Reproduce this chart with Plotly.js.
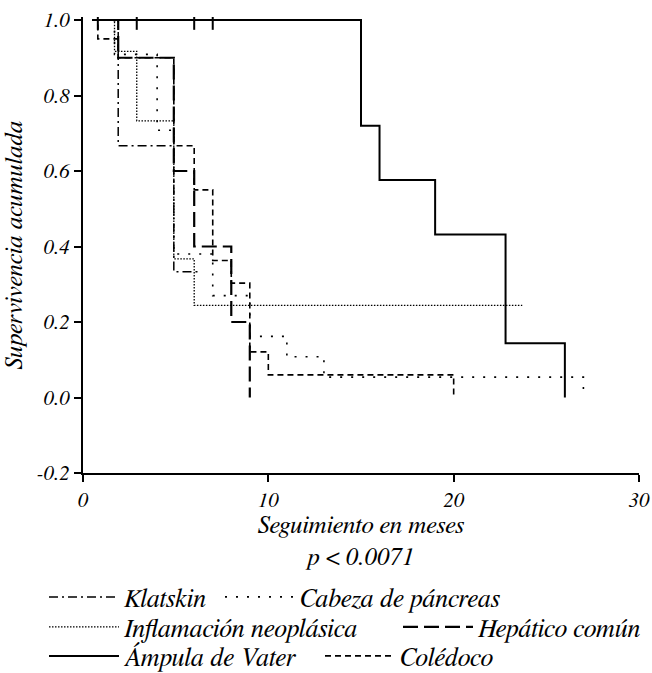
<!DOCTYPE html>
<html><head><meta charset="utf-8">
<script src="https://cdn.plot.ly/plotly-3.0.1.min.js"></script>
<style>html,body{margin:0;padding:0;background:#fff}</style>
</head><body>
<div id="chart" style="width:652px;height:673px"></div>
<script>
// ---- data (months, cumulative survival) ----
const xTickVals = [0, 10, 20, 30];
const yTickVals = [-0.2, 0, 0.2, 0.4, 0.6, 0.8, 1.0];
const yTickText = ['-0.2', '0.0', '0.2', '0.4', '0.6', '0.8', '1.0'];

const klatskinT = [0.5, 1.9, 4.9, 6.3];
const klatskinS = [1, 0.667, 0.333, 0.333];

const cabezaT = [0.5, 1.7, 4.0, 4.9, 7, 9, 11, 13, 27];
const cabezaS = [1, 0.909, 0.708, 0.38, 0.27, 0.162, 0.108, 0.054, 0];

const inflamT = [0.5, 1.7, 2.9, 4.9, 6, 23.7];
const inflamS = [1, 0.917, 0.733, 0.367, 0.244, 0.244];

const hepaticoT = [0.5, 1.9, 4.9, 6, 8, 9];
const hepaticoS = [1, 0.9, 0.6, 0.4, 0.2, 0];

const ampulaT = [0.5, 15, 16, 19, 22.8, 26];
const ampulaS = [1, 0.72, 0.576, 0.432, 0.144, 0];
const ampulaCensT = [0.8, 2.9, 6, 7];
const ampulaCensS = [1, 1, 1, 1];

const coledocoT = [0.5, 0.8, 1.9, 4.9, 6, 7, 8, 9, 10, 20];
const coledocoS = [1, 0.95, 0.9, 0.667, 0.55, 0.363, 0.303, 0.121, 0.06, 0];

const names = ['Klatskin', 'Cabeza de páncreas', 'Inflamación neoplásica', 'Hepático común', 'Ámpula de Vater', 'Colédoco'];

const fam = 'FreeSerif, Liberation Serif, serif';
function f(size) { return {family: fam, size: size, color: '#000', style: 'italic'}; }

function step(x, y, name, dash, width, legend) {
  return {type: 'scatter', mode: 'lines', x: x, y: y, name: name,
    line: {shape: 'hv', color: '#000', width: width, dash: dash},
    legend: legend, hoverinfo: 'skip'};
}

const traces = [
  step(klatskinT, klatskinS, names[0], '9px,4px,2px,4px', 1.5, 'legend'),
  step(cabezaT, cabezaS, names[1], '2px,9px', 1.6, 'legend2'),
  step(inflamT, inflamS, names[2], '1.5px,1.5px', 1.3, 'legend3'),
  step(hepaticoT, hepaticoS, names[3], '15px,6px', 2.2, 'legend4'),
  step(ampulaT, ampulaS, names[4], 'solid', 2, 'legend5'),
  step(coledocoT, coledocoS, names[5], '6px,4px', 1.6, 'legend6'),
  {type: 'scatter', mode: 'markers', x: ampulaCensT, y: ampulaCensS, showlegend: false,
   marker: {symbol: 'line-ns-open', size: 14, color: '#000', line: {width: 2, color: '#000'}}, hoverinfo: 'skip'}
];

// plot area: x 83..639 px, y 17..473 px
const plotL = 83, plotW = 556, plotB = 473, plotH = 456;
function legAt(px, py) {
  return {orientation: 'v', xanchor: 'left', yanchor: 'middle', font: f(26),
    bgcolor: 'rgba(0,0,0,0)', borderwidth: 0, itemwidth: 70, itemclick: false,
    x: (px - plotL) / plotW, y: (plotB - py) / plotH};
}

const layout = {
  width: 652, height: 673,
  margin: {l: 83, r: 13, t: 17, b: 200, autoexpand: false},
  paper_bgcolor: '#fff', plot_bgcolor: '#fff',
  showlegend: true,
  xaxis: {range: [0, 30], tickvals: xTickVals, ticktext: xTickVals.map(String),
    showline: true, linecolor: '#000', linewidth: 2, ticks: 'outside', ticklen: 7, tickwidth: 2, tickcolor: '#000',
    showgrid: false, zeroline: false, tickfont: f(21),
    title: {text: 'Seguimiento en meses<br>p &lt; 0.0071', font: f(25), standoff: 5}},
  yaxis: {range: [-0.2, 1.008], tickvals: yTickVals, ticktext: yTickText,
    showline: true, linecolor: '#000', linewidth: 2, ticks: 'outside', ticklen: 7, tickwidth: 2, tickcolor: '#000',
    showgrid: false, zeroline: false, tickfont: f(21),
    title: {text: 'Supervivencia acumulada', font: f(25), standoff: 7}},
  legend: legAt(44, 597),
  legend2: legAt(220, 597),
  legend3: legAt(44, 627),
  legend4: legAt(398, 627),
  legend5: legAt(44, 656),
  legend6: legAt(320, 656)
};

Plotly.newPlot('chart', traces, layout, {staticPlot: true, displayModeBar: false});
</script>
</body></html>
